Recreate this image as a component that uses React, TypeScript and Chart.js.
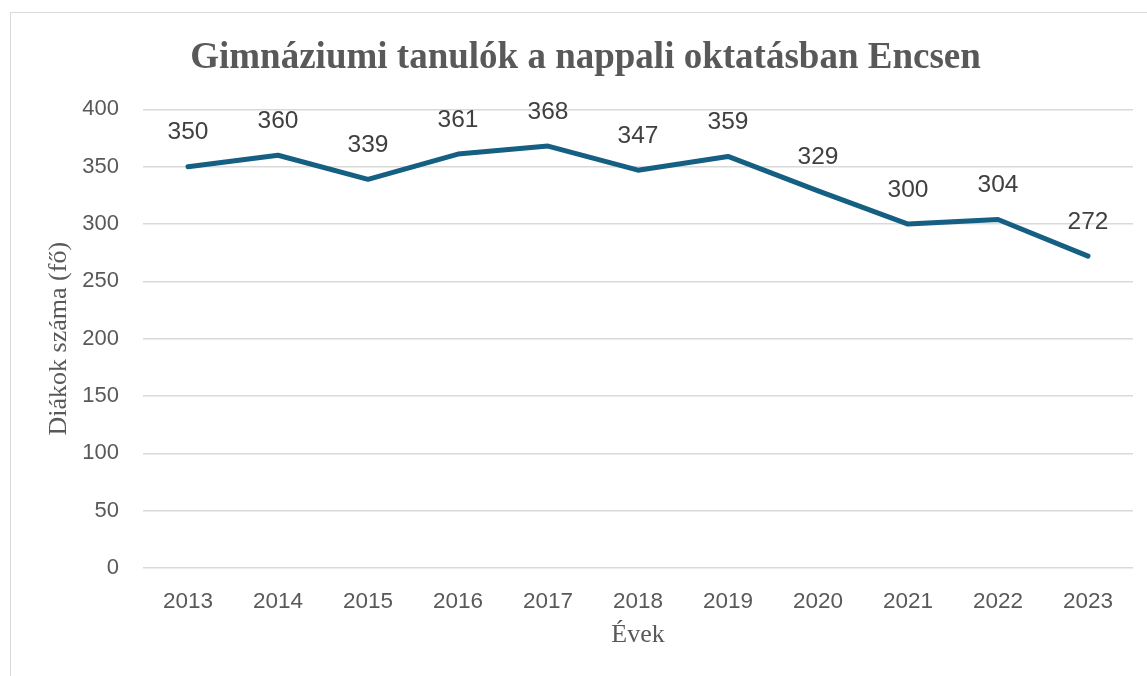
import React, { useEffect, useRef } from "react";
import { Chart, registerables } from "chart.js";

Chart.register(...registerables);

const years = ["2013", "2014", "2015", "2016", "2017", "2018", "2019", "2020", "2021", "2022", "2023"];
const students = [350, 360, 339, 361, 368, 347, 359, 329, 300, 304, 272];
const chartTitle = "Gimnáziumi tanulók a nappali oktatásban Encsen";
const yTitle = "Diákok száma (fő)";
const xTitle = "Évek";

const labelPlugin = {
  id: "pointLabels",
  afterDatasetsDraw(chart: any) {
    const ctx = chart.ctx;
    const meta = chart.getDatasetMeta(0);
    ctx.save();
    ctx.font = "24.5px 'Liberation Sans', Arial, sans-serif";
    ctx.fillStyle = "#404040";
    ctx.textAlign = "center";
    ctx.textBaseline = "middle";
    meta.data.forEach((pt: any, i: number) => {
      ctx.fillText(String(students[i]), pt.x, pt.y - 34);
    });
    ctx.restore();
  },
};

export default function App() {
  const ref = useRef<HTMLCanvasElement | null>(null);
  useEffect(() => {
    if (!ref.current) return;
    const chart = new Chart(ref.current, {
      type: "line",
      data: {
        labels: years,
        datasets: [
          {
            data: students,
            borderColor: "#156082",
            backgroundColor: "#156082",
            borderWidth: 5,
            borderCapStyle: "round",
            borderJoinStyle: "round",
            pointRadius: 0,
            tension: 0,
          },
        ],
      },
      options: {
        animation: false,
        responsive: true,
        maintainAspectRatio: false,
        layout: { padding: { top: 0, left: 27, right: 36, bottom: 19 } },
        plugins: {
          legend: { display: false },
          tooltip: { enabled: false },
          title: {
            display: true,
            text: chartTitle,
            color: "#595959",
            font: { family: "'Liberation Serif', 'Times New Roman', serif", size: 37, weight: "bold" },
            padding: { top: 23, bottom: 29 },
          },
        },
        scales: {
          x: {
            offset: true,
            grid: { display: false, drawTicks: false },
            border: { display: false },
            ticks: {
              color: "#595959",
              font: { family: "'Liberation Sans', Arial, sans-serif", size: 22.5 },
              padding: 20,
              maxRotation: 0,
            },
            title: {
              display: true,
              text: xTitle,
              color: "#595959",
              font: { family: "'Liberation Serif', 'Times New Roman', serif", size: 26 },
              padding: { top: 0, bottom: 7 },
            },
            afterFit(scale: any) {
              scale.height = 90;
            },
          },
          y: {
            min: 0,
            max: 400,
            grid: { color: "#d9d9d9", lineWidth: 1.5, drawTicks: false },
            border: { display: false },
            ticks: {
              stepSize: 50,
              color: "#595959",
              font: { family: "'Liberation Sans', Arial, sans-serif", size: 22 },
              padding: 24,
            },
            title: {
              display: true,
              text: yTitle,
              color: "#595959",
              font: { family: "'Liberation Serif', 'Times New Roman', serif", size: 26 },
              padding: { top: 6, bottom: 0 },
            },
            afterFit(scale: any) {
              scale.width = 105;
            },
          },
        },
      },
      plugins: [labelPlugin],
    } as any);
    return () => chart.destroy();
  }, []);

  return (
    <div style={{ position: "fixed", left: 0, top: 0, width: 1147, height: 676, overflow: "hidden", background: "#fff" }}>
      <div
        style={{
          position: "absolute",
          left: 10,
          top: 12,
          width: 1160,
          height: 666,
          border: "1px solid #d9d9d9",
          boxSizing: "border-box",
        }}
      >
        <div style={{ position: "absolute", left: 0, top: 0, width: 1158, height: 664 }}>
          <canvas ref={ref} />
        </div>
      </div>
    </div>
  );
}
